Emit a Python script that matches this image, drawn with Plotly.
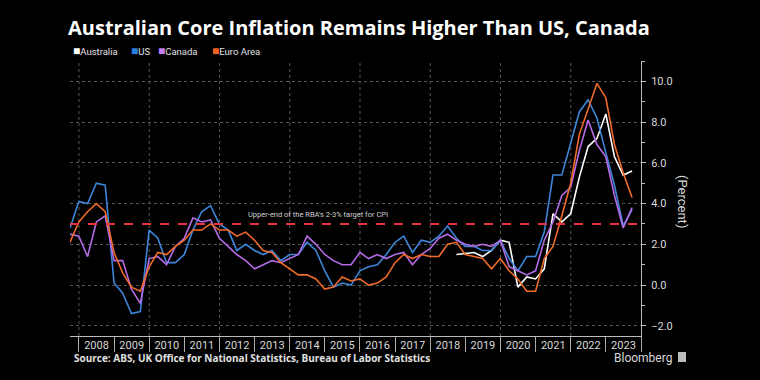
import plotly.graph_objects as go

# ---------------- data (quarter-end, year-over-year %) ----------------
dates = []
for yr in range(2007, 2024):
    for md in ("03-31", "06-30", "09-30", "12-31"):
        d = f"{yr}-{md}"
        if "2007-09-30" <= d <= "2023-09-30":
            dates.append(d)

series_names = ["Australia", "US", "Canada", "Euro Area"]
series_colors = ["#ffffff", "#3d85d8", "#b56be6", "#f06a2a"]
legend_colors = ["#ffffff", "#2f7fe0", "#c07ef0", "#f0601e"]

australia = [None] * 44 + [
    1.5, 1.55, 1.6, 1.4,
    1.7, 2.2, 2.1, -0.1, 0.4, 0.3,
    0.8, 3.5, 3.1, 3.5,
    5.3, 6.8, 7.2, 8.4,
    6.3, 5.4, 5.6,
]
us = [
    2.8, 4.1,
    4.0, 5.0, 4.9, 0.1,
    -0.4, -1.4, -1.3, 2.7,
    2.3, 1.1, 1.1, 1.5,
    2.7, 3.6, 3.9, 3.0,
    2.7, 1.7, 2.0, 1.7,
    1.5, 1.7, 1.2, 1.5,
    1.5, 2.1, 1.7, 0.7,
    -0.1, 0.1, 0.0, 0.7,
    0.9, 1.0, 1.5, 2.1,
    2.4, 1.6, 2.2, 2.1,
    2.4, 2.9, 2.3, 1.9,
    1.9, 1.7, 1.7, 2.2,
    1.3, 0.7, 1.4, 1.4,
    2.6, 5.4, 5.4, 7.0,
    8.5, 9.1, 8.2, 6.5,
    4.9, 2.9, 3.7,
]
canada = [
    2.5, 2.4,
    1.4, 3.1, 3.4, 1.2,
    1.2, -0.2, -0.9, 1.3,
    1.4, 1.0, 1.9, 2.3,
    3.3, 3.1, 3.2, 2.3,
    1.9, 1.5, 1.2, 0.8,
    1.0, 1.2, 1.1, 1.3,
    1.5, 2.4, 2.0, 1.5,
    1.2, 1.0, 1.0, 1.6,
    1.3, 1.5, 1.3, 1.5,
    1.6, 1.0, 1.5, 1.8,
    2.3, 2.5, 2.2, 2.0,
    1.9, 2.0, 1.9, 2.2,
    0.9, 0.7, 0.5, 0.7,
    2.2, 3.1, 4.4, 4.8,
    6.6, 8.1, 6.9, 6.3,
    4.4, 2.8, 3.8,
]
euro_area = [
    2.1, 3.1,
    3.6, 4.0, 3.6, 1.6,
    0.6, -0.1, -0.3, 0.9,
    1.6, 1.5, 1.9, 2.2,
    2.7, 2.7, 3.0, 2.7,
    2.7, 2.4, 2.6, 2.2,
    1.7, 1.6, 1.1, 0.8,
    0.5, 0.5, 0.3, -0.2,
    -0.1, 0.4, 0.2, 0.3,
    0.0, 0.1, 0.4, 1.1,
    1.5, 1.3, 1.5, 1.4,
    1.4, 2.0, 2.1, 1.5,
    1.4, 1.3, 0.8, 1.3,
    0.7, 0.3, -0.3, -0.3,
    1.3, 1.9, 3.4, 5.0,
    7.4, 8.6, 9.9, 9.2,
    6.9, 5.5, 4.3,
]
series_values = [australia, us, canada, euro_area]

rba_upper_target = 3.0
target_label = "Upper-end of the RBA's 2-3% target for CPI"
grid_years = ["2008-01-01", "2010-01-01", "2012-01-01", "2014-01-01",
              "2016-01-01", "2018-01-01", "2020-01-01", "2022-01-01"]

title_text = "Australian Core Inflation Remains Higher Than US, Canada"
source_text = "Source: ABS, UK Office for National Statistics, Bureau of Labor Statistics"

# ---------------- figure ----------------
W, H = 760, 380
L, R, T, B = 70, 119, 61, 44
PW, PH = W - L - R, H - T - B


def px_x(px):
    return (px - L) / PW


def px_y(py):
    return (H - B - py) / PH


fig = go.Figure()
for name, vals, col in zip(series_names, series_values, series_colors):
    fig.add_trace(go.Scatter(
        x=dates, y=vals, mode="lines", name=name,
        line=dict(color=col, width=1.6), connectgaps=False,
        showlegend=False,
    ))

shapes = []
for gx in grid_years:
    shapes.append(dict(type="line", xref="x", yref="paper", x0=gx, x1=gx,
                       y0=0, y1=1, line=dict(color="#555555", width=1, dash="dot"),
                       layer="below"))
shapes.append(dict(type="line", xref="paper", yref="y", x0=0, x1=1,
                   y0=rba_upper_target, y1=rba_upper_target,
                   line=dict(color="#e8343f", width=2, dash="dash")))
# Bloomberg mark
shapes.append(dict(type="rect", xref="paper", yref="paper",
                   x0=px_x(678), x1=px_x(686), y0=px_y(362), y1=px_y(352),
                   fillcolor="#bdbdbd", line=dict(width=0)))

annotations = []
# legend
legend_x = [71, 129, 156, 210]
for name, col, lx in zip(series_names, legend_colors, legend_x):
    annotations.append(dict(
        xref="paper", yref="paper", x=px_x(lx), y=px_y(51), xanchor="left",
        yanchor="middle", showarrow=False,
        text=f'<span style="color:{col};font-size:12px">■</span>{name}',
        font=dict(family="Roboto", size=9.5, color="#e0e0e0")))
annotations.append(dict(
    xref="paper", yref="y", x=px_x(246), y=rba_upper_target + 0.45,
    xanchor="left", yanchor="middle", showarrow=False, text=target_label,
    font=dict(family="Roboto", size=7.5, color="#d0d0d0")))
annotations.append(dict(
    xref="paper", yref="paper", x=px_x(682), y=px_y(201), xanchor="center",
    yanchor="middle", showarrow=False, text="(Percent)", textangle=90,
    font=dict(family="Roboto", size=13, color="#d9d9d9")))
annotations.append(dict(
    xref="paper", yref="paper", x=px_x(72), y=px_y(358), xanchor="left",
    yanchor="middle", showarrow=False, text=f"<b>{source_text}</b>",
    font=dict(family="Open Sans", size=10, color="#e0e0e0")))
annotations.append(dict(
    xref="paper", yref="paper", x=px_x(674), y=px_y(358), xanchor="right",
    yanchor="middle", showarrow=False, text="Bloomberg",
    font=dict(family="Roboto", size=12, color="#d9d9d9")))

fig.update_layout(
    width=W, height=H,
    margin=dict(l=L, r=R, t=T, b=B, pad=0),
    paper_bgcolor="#000000", plot_bgcolor="#000000",
    title=dict(text=f"<b>{title_text}</b>", x=68 / W, xanchor="left",
               y=1 - 28 / H, yanchor="middle",
               font=dict(family="Open Sans", size=20, color="#ffffff")),
    xaxis=dict(type="date", range=["2007-09-30", "2024-01-01"],
               dtick="M12", tick0="2008-01-01", ticklabelmode="period",
               tickformat="%Y", ticks="outside", ticklen=15,
               tickcolor="#aaaaaa", tickwidth=1, showline=True,
               linecolor="#bbbbbb", linewidth=1, showgrid=False,
               zeroline=False, ticklabelstandoff=-16,
               tickfont=dict(family="Roboto", size=11, color="#d9d9d9")),
    yaxis=dict(side="right", range=[-2.5, 11], tick0=0, dtick=2,
               tickformat=".1f", showgrid=True, gridcolor="#555555",
               griddash="dot", gridwidth=1, ticks="outside", ticklen=4,
               tickcolor="#bbbbbb", showline=True, linecolor="#bbbbbb",
               linewidth=1, zeroline=False, ticklabelstandoff=3,
               minor=dict(dtick=1, tick0=0, ticks="outside", ticklen=3,
                          tickcolor="#bbbbbb", showgrid=False),
               tickfont=dict(family="Roboto", size=11, color="#d9d9d9")),
    shapes=shapes, annotations=annotations,
    showlegend=False,
)

fig.write_html(
    "out.html",
    config={"displayModeBar": False},
    post_script="document.body.style.margin='0';document.body.style.background='#000';",
)
